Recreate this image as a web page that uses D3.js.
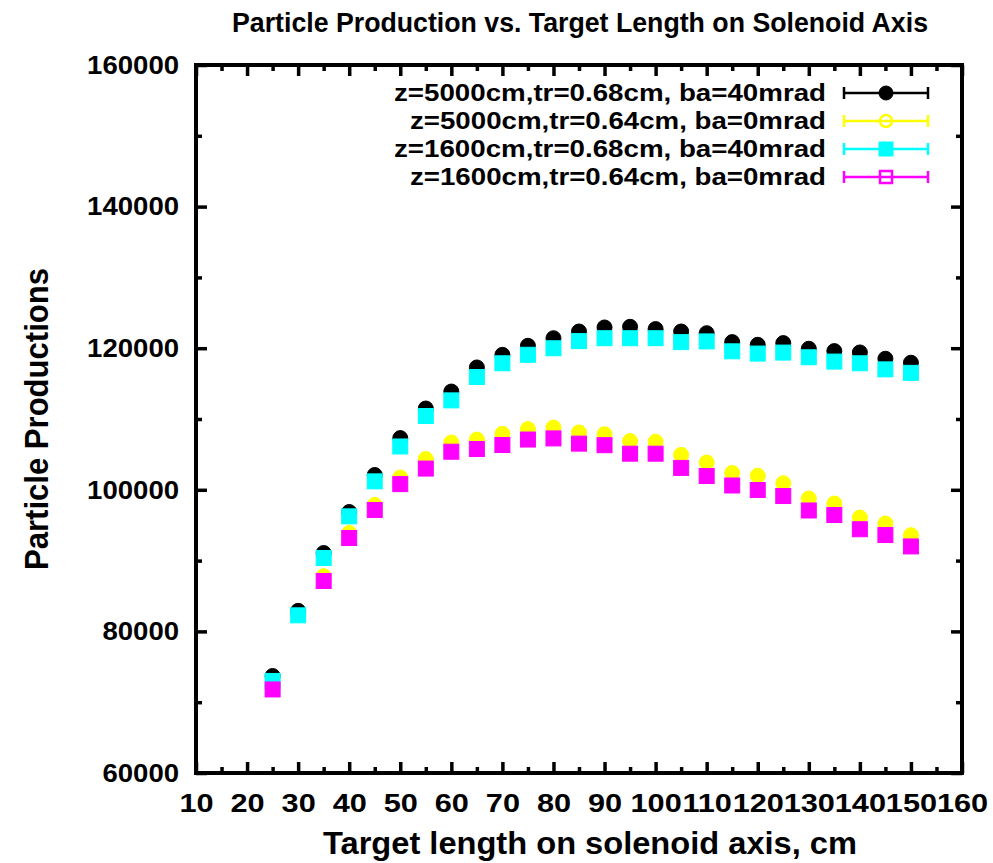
<!DOCTYPE html>
<html>
<head>
<meta charset="utf-8">
<script src="https://cdn.jsdelivr.net/npm/d3@7"></script>
<style>
  body { margin: 0; background: #fff; }
  text { font-family: "Liberation Sans", Arial, sans-serif; font-weight: bold; fill: #000; }
</style>
</head>
<body>
<div id="container"></div>
<script>
// target length on solenoid axis (cm)
const lengths = [25, 30, 35, 40, 45, 50, 55, 60, 65, 70, 75, 80, 85, 90, 95, 100, 105, 110, 115, 120, 125, 130, 135, 140, 145, 150];

// particle productions per setting (null = no point)
const z5000tr68ba40 = [73700, 82900, 91070, 96860, 102090, 107300, 111480, 113880, 117280, 119060, 120340, 121410, 122360, 122930, 123020, 122700, 122360, 122120, 120860, 120480, 120720, 119920, 119590, 119400, 118510, 117950];
const z5000tr64ba0 = [72300, null, 87800, 93900, 97850, 101740, 104350, 106680, 107100, 107900, 108580, 108800, 108100, 107850, 106890, 106780, 104930, 103850, 102370, 101990, 100930, 98770, 98060, 96080, 95230, 93590];
const z1600tr68ba40 = [73000, 82270, 90370, 96250, 101190, 106120, 110420, 112630, 115930, 117870, 119070, 119990, 121000, 121410, 121410, 121410, 120860, 120960, 119560, 119240, 119380, 118720, 118110, 117870, 117010, 116520];
const z1600tr64ba0 = [71800, null, 87120, 93190, 97150, 100800, 103000, 105380, 105760, 106330, 107100, 107260, 106520, 106300, 105100, 105100, 103090, 101950, 100610, 99970, 99120, 97080, 96440, 94430, 93610, 92000];

const seriesNames = [
  "z=5000cm,tr=0.68cm, ba=40mrad",
  "z=5000cm,tr=0.64cm, ba=0mrad",
  "z=1600cm,tr=0.68cm, ba=40mrad",
  "z=1600cm,tr=0.64cm, ba=0mrad"
];
const seriesValues = [z5000tr68ba40, z5000tr64ba0, z1600tr68ba40, z1600tr64ba0];

const xTicks = [10, 20, 30, 40, 50, 60, 70, 80, 90, 100, 110, 120, 130, 140, 150, 160];
const xMinorTicks = [15, 25, 35, 45, 55, 65, 75, 85, 95, 105, 115, 125, 135, 145, 155];
const yTicks = [60000, 80000, 100000, 120000, 140000, 160000];
const yMinorTicks = [70000, 90000, 110000, 130000, 150000];

const width = 993, height = 863;
const plotLeft = 196, plotRight = 962, plotTop = 65, plotBottom = 773;

const svg = d3.select("#container").append("svg")
    .attr("width", width)
    .attr("height", height)
    .style("background", "#fff");

const x = d3.scaleLinear().domain([10, 160]).range([plotLeft, plotRight]);
const y = d3.scaleLinear().domain([60000, 160000]).range([plotBottom, plotTop]);

// markers per series: black dot, yellow circle, cyan box, magenta box
const styles = [
    { color: "#000000", shape: "circle", filled: true },
    { color: "#ffff00", shape: "circle", filled: false },
    { color: "#00ffff", shape: "square", filled: true },
    { color: "#ff00ff", shape: "square", filled: false }
];

function addAxis(axis, tx, ty) {
    const g = svg.append("g")
        .attr("transform", `translate(${tx},${ty})`)
        .call(axis);
    g.select(".domain").remove();
    g.attr("font-family", null).attr("font-size", 26);
    g.selectAll("line").attr("stroke", "#000").attr("stroke-width", 3.5);
    return g;
}

// bottom + top
const xAxis = addAxis(d3.axisBottom(x).tickValues(xTicks).tickSizeInner(-11).tickSizeOuter(0)
    .tickPadding(21).tickFormat(d3.format("d")), 0, plotBottom);
xAxis.selectAll("text").attr("transform", "scale(1.18,1)");
addAxis(d3.axisBottom(x).tickValues(xMinorTicks).tickSize(-6).tickFormat(""), 0, plotBottom);
addAxis(d3.axisTop(x).tickValues(xTicks).tickSize(-11).tickFormat(""), 0, plotTop);
addAxis(d3.axisTop(x).tickValues(xMinorTicks).tickSize(-6).tickFormat(""), 0, plotTop);

// left + right
const yAxis = addAxis(d3.axisLeft(y).tickValues(yTicks).tickSizeInner(-11).tickSizeOuter(0)
    .tickPadding(16).tickFormat(d3.format("d")), plotLeft, 0);
yAxis.selectAll("text").attr("transform", "scale(1.06,1)");
addAxis(d3.axisLeft(y).tickValues(yMinorTicks).tickSize(-6).tickFormat(""), plotLeft, 0);
addAxis(d3.axisRight(y).tickValues(yTicks).tickSize(-11).tickFormat(""), plotRight, 0);
addAxis(d3.axisRight(y).tickValues(yMinorTicks).tickSize(-6).tickFormat(""), plotRight, 0);

// frame
svg.append("rect")
    .attr("x", plotLeft).attr("y", plotTop)
    .attr("width", plotRight - plotLeft).attr("height", plotBottom - plotTop)
    .attr("fill", "none").attr("stroke", "#000").attr("stroke-width", 4);

function drawMarker(g, style, size, legend) {
    const fill = (style.filled || !legend) ? style.color : "none";
    const sw = legend && !style.filled ? 2.5 : 1;
    if (style.shape === "circle") {
        g.append("circle").attr("r", size / 2)
            .attr("fill", fill).attr("stroke", style.color).attr("stroke-width", sw);
    } else {
        g.append("rect").attr("x", -size / 2).attr("y", -size / 2)
            .attr("width", size).attr("height", size)
            .attr("fill", fill).attr("stroke", style.color).attr("stroke-width", sw);
    }
}

// points
seriesValues.forEach((vals, i) => {
    const pts = lengths.map((l, j) => ({ l, v: vals[j] })).filter(d => d.v != null);
    const g = svg.append("g").attr("class", "series-" + i);
    g.selectAll("g").data(pts).enter().append("g")
        .attr("transform", d => `translate(${x(d.l)},${y(d.v)})`)
        .each(function() { drawMarker(d3.select(this), styles[i], 15, false); });
});

// legend
const legendRows = [93, 121, 149, 177];
const legendWidths = [432, 416, 432, 416];
seriesNames.forEach((name, i) => {
    const yy = legendRows[i];
    svg.append("text")
        .attr("x", 826).attr("y", yy + 8)
        .attr("text-anchor", "end")
        .attr("font-size", 24)
        .attr("textLength", legendWidths[i])
        .attr("lengthAdjust", "spacingAndGlyphs")
        .text(name);
    const c = styles[i].color;
    svg.append("line").attr("x1", 844).attr("x2", 928).attr("y1", yy).attr("y2", yy)
        .attr("stroke", c).attr("stroke-width", 2.5);
    [844, 928].forEach(cx => svg.append("line")
        .attr("x1", cx).attr("x2", cx).attr("y1", yy - 6).attr("y2", yy + 6)
        .attr("stroke", c).attr("stroke-width", 2.5));
    const m = svg.append("g").attr("transform", `translate(886,${yy})`);
    drawMarker(m, styles[i], styles[i].filled ? 14 : 12, true);
});

// titles
svg.append("text")
    .attr("x", 580).attr("y", 32)
    .attr("text-anchor", "middle")
    .attr("font-size", 27)
    .attr("textLength", 696)
    .attr("lengthAdjust", "spacingAndGlyphs")
    .text("Particle Production vs. Target Length on Solenoid Axis");

svg.append("text")
    .attr("x", 590).attr("y", 854)
    .attr("text-anchor", "middle")
    .attr("font-size", 32)
    .attr("textLength", 534)
    .attr("lengthAdjust", "spacingAndGlyphs")
    .text("Target length on solenoid axis, cm");

svg.append("text")
    .attr("transform", "translate(48,419) rotate(-90)")
    .attr("text-anchor", "middle")
    .attr("font-size", 34)
    .attr("textLength", 302)
    .attr("lengthAdjust", "spacingAndGlyphs")
    .text("Particle Productions");
</script>
</body>
</html>
